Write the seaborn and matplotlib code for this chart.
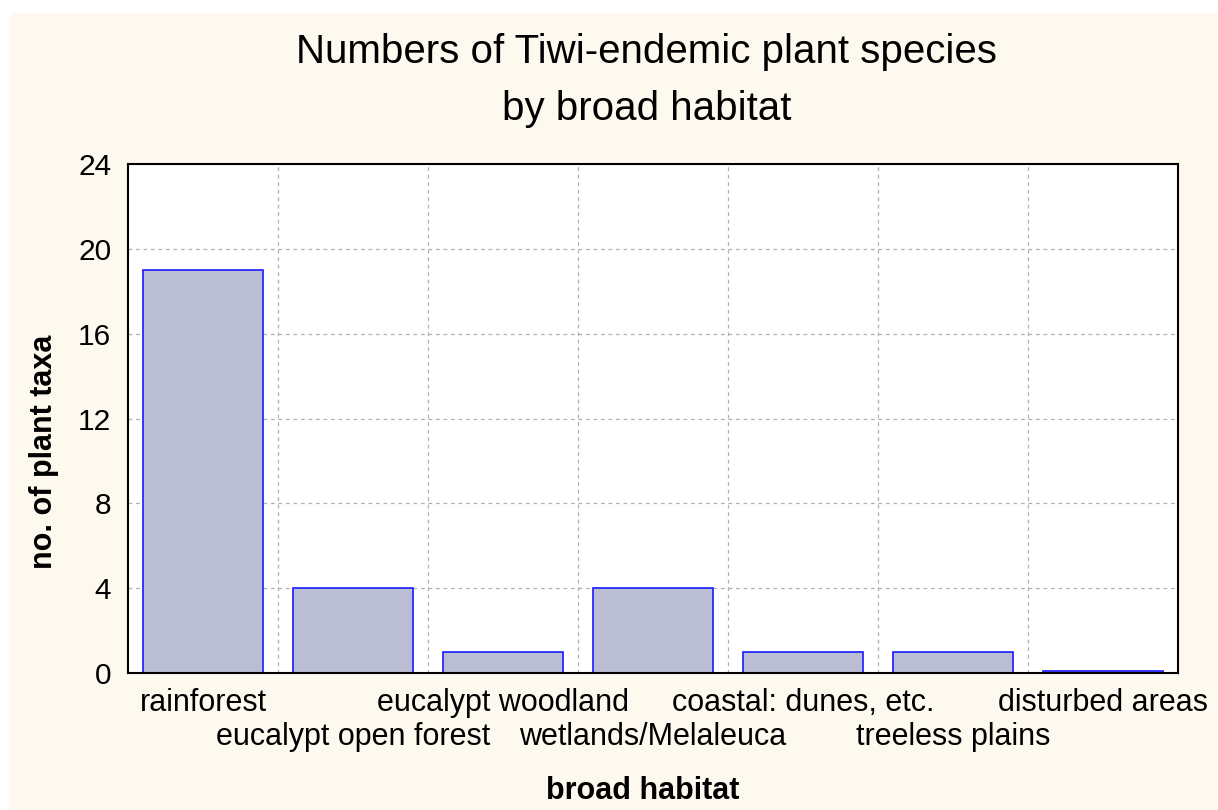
import matplotlib.pyplot as plt
import matplotlib.patches as mpatches
import matplotlib.transforms as mtransforms
import numpy as np
import pandas as pd
import seaborn as sns

habitats = ["rainforest", "eucalypt open forest", "eucalypt woodland",
            "wetlands/Melaleuca", "coastal: dunes, etc.", "treeless plains",
            "disturbed areas"]
n_taxa = [19, 4, 1, 4, 1, 1, 0.1]
y_ticks = [0, 4, 8, 12, 16, 20, 24]

df = pd.DataFrame({"habitat": habitats, "taxa": n_taxa})

sns.set_style("white")
plt.rcParams['font.family'] = ['Liberation Sans', 'DejaVu Sans']
plt.rcParams['text.color'] = 'black'
plt.rcParams['axes.labelcolor'] = 'black'
plt.rcParams['xtick.color'] = 'black'
plt.rcParams['ytick.color'] = 'black'

cream = "#fef9ee"
fig = plt.figure(figsize=(12.18, 8.10), dpi=100, facecolor="white")
fig.patches.append(mpatches.Rectangle((10 / 1218, 0), 1, 1 - 13 / 810,
                                      transform=fig.transFigure,
                                      facecolor=cream, edgecolor="none", zorder=-10))
ax = fig.add_axes([128 / 1218, 137 / 810, 1050 / 1218, 509 / 810])

sns.barplot(data=df, x="habitat", y="taxa", ax=ax, width=0.8,
            color="#bbbdd5", edgecolor="#1a1aff", linewidth=1.2, saturation=1)

ax.set_xlim(-0.5, 6.5)
ax.set_ylim(0, 24)
ax.set_yticks(y_ticks)
ax.set_yticklabels([str(v) for v in y_ticks], fontsize=21.5)

# labels alternate between two rows
ax.set_xticks(range(len(habitats)))
ax.set_xticklabels([h if i % 2 == 0 else "" for i, h in enumerate(habitats)], fontsize=22)
trans = mtransforms.blended_transform_factory(ax.transData, ax.transAxes)
for i, h in enumerate(habitats):
    if i % 2 == 1:
        ax.text(i, -0.126, h, transform=trans, ha="center", va="center", fontsize=22)

ax.set_xticks(np.arange(0.5, 6.5, 1), minor=True)
ax.tick_params(axis="x", which="major", length=0, pad=11)
ax.tick_params(axis="x", which="minor", direction="in", length=5, width=1.2, color="black")
ax.tick_params(axis="y", which="major", direction="in", length=5, width=1.2, pad=12)

ax.grid(False)
ax.xaxis.grid(True, which="minor", linestyle=(0, (3, 3)), color="#b0b0b0", linewidth=0.9)
ax.yaxis.grid(True, which="major", linestyle=(0, (3, 3)), color="#b0b0b0", linewidth=0.9)
ax.set_axisbelow(True)

for s in ax.spines.values():
    s.set_visible(True)
    s.set_color("black")
    s.set_linewidth(1.5)

ax.set_xlabel("broad habitat", fontsize=22, fontweight="bold")
ax.xaxis.set_label_coords(0.49, -0.202)
ax.set_ylabel("no. of plant taxa", fontsize=22, fontweight="bold")
ax.yaxis.set_label_coords(-0.066, 0.435)

fig.text(0.531, 0.936, "Numbers of Tiwi-endemic plant species", fontsize=29,
         ha="center", va="center")
fig.text(0.531, 0.866, "by broad habitat", fontsize=29, ha="center", va="center")

plt.savefig("out.png", dpi=100, facecolor=fig.get_facecolor())
